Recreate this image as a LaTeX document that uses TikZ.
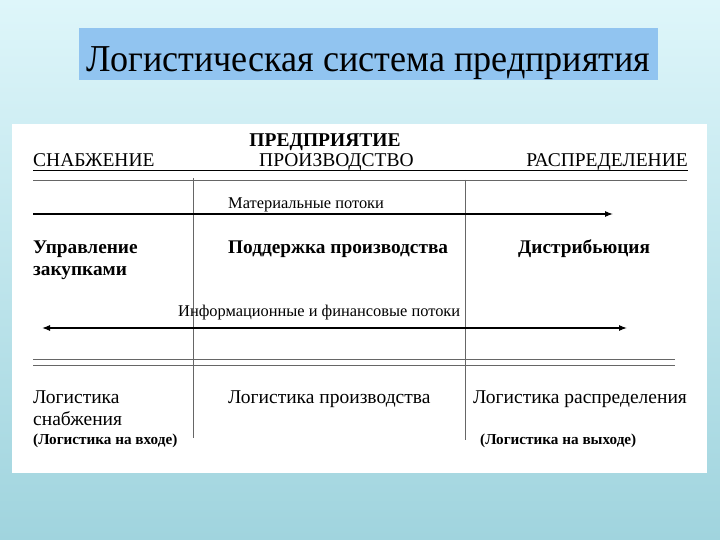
\documentclass[tikz,border=0pt]{standalone}
\usepackage{fontspec}
\setmainfont{Liberation Serif}
\usetikzlibrary{arrows.meta}
\definecolor{bgtop}{RGB}{222,246,250}
\definecolor{bgbot}{RGB}{160,212,222}
\definecolor{titlebg}{RGB}{145,196,240}
\tikzset{
  txt/.style={anchor=base west, inner sep=0pt, font=\fontsize{19.5}{22}\selectfont},
  btxt/.style={txt, font=\fontsize{19.3}{22}\selectfont\bfseries},
  stxt/.style={txt, font=\fontsize{16.4}{18}\selectfont},
  sbtxt/.style={txt, font=\fontsize{15.2}{17}\selectfont\bfseries},
  rule/.style={line width=0.7pt, draw=black},
  grule/.style={line width=0.6pt, draw=gray!80!black},
  flow/.style={line width=1.1pt, -{Latex[length=8pt,width=6pt]}},
}
\begin{document}
\begin{tikzpicture}[x=1pt,y=-1pt]
\useasboundingbox (0,0) rectangle (720,540);
\shade[top color=bgtop, bottom color=bgbot] (0,0) rectangle (720,540);
% title
\fill[titlebg] (79,28) rectangle (658,80);
\node[anchor=base, inner sep=0pt, font=\fontsize{38}{42}\selectfont, xscale=0.95] (title) at (368.5,72) {Логистическая система предприятия};
% white panel
\fill[white] (12,124) rectangle (707,473);
% headings
\node[anchor=base, inner sep=0pt, font=\fontsize{19.5}{22}\selectfont\bfseries] (ent) at (325,147) {ПРЕДПРИЯТИЕ};
\node[txt] (sup) at (33,167) {СНАБЖЕНИЕ};
\node[txt] (prod) at (259,167) {ПРОИЗВОДСТВО};
\node[txt, anchor=base east] (dist) at (688,167) {РАСПРЕДЕЛЕНИЕ};
% rules
\coordinate (r1a) at (33,170); \coordinate (r1b) at (688,170);
\coordinate (r2a) at (33,180); \coordinate (r2b) at (687,180);
\draw[rule] (r1a) -- (r1b);
\draw[grule] (r2a) -- (r2b);
% verticals
\coordinate (v1a) at (193,178); \coordinate (v1b) at (193,438);
\coordinate (v2a) at (465,180); \coordinate (v2b) at (465,440);
\draw[grule] (v1a) -- (v1b);
\draw[grule] (v2a) -- (v2b);
% material flow
\node[stxt] (mat) at (228,209) {Материальные потоки};
\coordinate (ma) at (33,214); \coordinate (mb) at (613,214);
\draw[flow] (ma) -- (mb);
% row 2
\node[btxt] (upr) at (33,253) {Управление};
\node[btxt] (zak) at (33,275) {закупками};
\node[btxt] (pod) at (228,253) {Поддержка производства};
\node[btxt] (dis) at (518,253) {Дистрибьюция};
% info flow
\node[stxt] (inf) at (178,316) {Информационные и финансовые потоки};
\coordinate (ia) at (42,328); \coordinate (ib) at (627,328);
\draw[flow, {Latex[length=8pt,width=6pt]}-{Latex[length=8pt,width=6pt]}] (ia) -- (ib);
% double rules
\coordinate (d1a) at (33,359); \coordinate (d1b) at (675,359);
\coordinate (d2a) at (33,365); \coordinate (d2b) at (675,365);
\draw[grule] (d1a) -- (d1b);
\draw[grule] (d2a) -- (d2b);
% row 3
\node[txt] (l1) at (33,403) {Логистика};
\node[txt] (l2) at (33,425) {снабжения};
\node[sbtxt] (l3) at (33,444) {(Логистика на входе)};
\node[txt] (lp) at (228,403) {Логистика производства};
\node[txt] (lr) at (473,403) {Логистика распределения};
\node[sbtxt] (lo) at (480,444) {(Логистика на выходе)};
\end{tikzpicture}
\end{document}
